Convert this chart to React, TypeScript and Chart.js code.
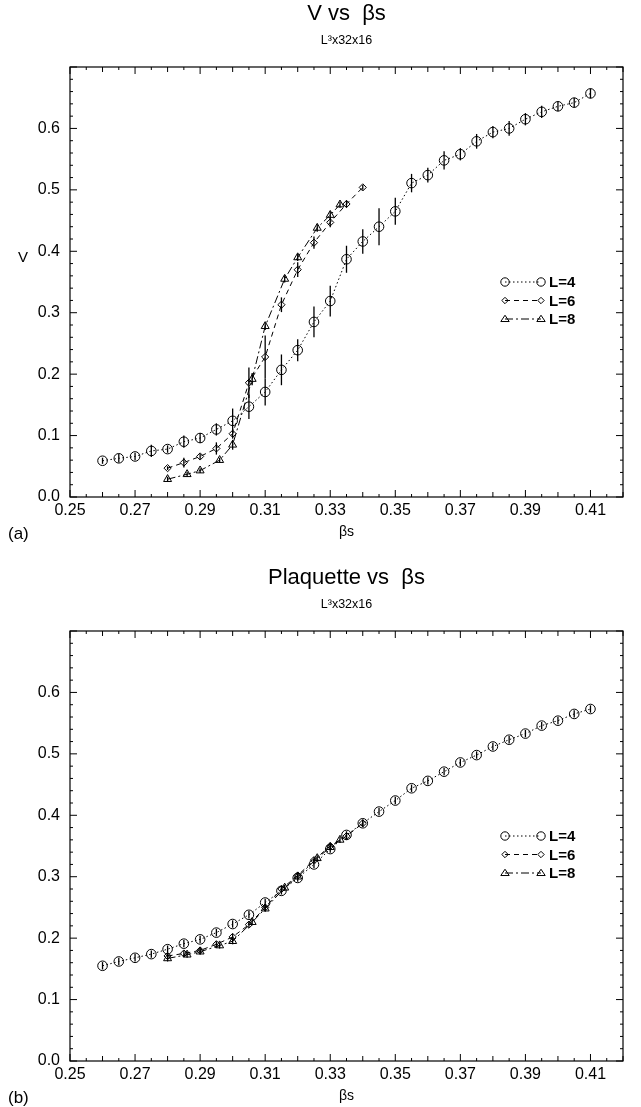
import React, { useEffect, useRef } from 'react';
import { Chart, registerables } from 'chart.js';

Chart.register(...registerables);

// ---------- data ----------
const X4 = [0.26, 0.265, 0.27, 0.275, 0.28, 0.285, 0.29, 0.295, 0.3, 0.305, 0.31, 0.315, 0.32, 0.325, 0.33, 0.335, 0.34, 0.345, 0.35, 0.355, 0.36, 0.365, 0.37, 0.375, 0.38, 0.385, 0.39, 0.395, 0.4, 0.405, 0.41];
const X6 = [0.28, 0.285, 0.29, 0.295, 0.3, 0.305, 0.31, 0.315, 0.32, 0.325, 0.33, 0.335, 0.34];
const X8 = [0.28, 0.286, 0.29, 0.296, 0.3, 0.306, 0.31, 0.316, 0.32, 0.326, 0.33, 0.333];

const V4 = [0.059, 0.063, 0.066, 0.075, 0.078, 0.09, 0.096, 0.11, 0.124, 0.147, 0.171, 0.207, 0.239, 0.285, 0.319, 0.387, 0.416, 0.44, 0.465, 0.511, 0.524, 0.548, 0.558, 0.579, 0.594, 0.6, 0.615, 0.627, 0.636, 0.642, 0.657];
const V4Err = [0.005, 0.007, 0.006, 0.01, 0.006, 0.01, 0.008, 0.01, 0.02, 0.02, 0.022, 0.025, 0.018, 0.025, 0.025, 0.022, 0.02, 0.03, 0.022, 0.015, 0.012, 0.015, 0.01, 0.012, 0.01, 0.012, 0.01, 0.01, 0.008, 0.008, 0.008];
const V6 = [0.047, 0.056, 0.066, 0.079, 0.103, 0.186, 0.228, 0.313, 0.37, 0.414, 0.447, 0.477, 0.504];
const V6Err = [0.003, 0.008, 0.004, 0.01, 0.008, 0.025, 0.035, 0.012, 0.012, 0.01, 0.008, 0.006, 0.004];
const V8 = [0.029, 0.037, 0.043, 0.06, 0.085, 0.192, 0.278, 0.355, 0.39, 0.438, 0.459, 0.476];
const V8Err = [0.004, 0.004, 0.004, 0.004, 0.008, 0.01, 0.006, 0.006, 0.006, 0.006, 0.006, 0.005];

const P4 = [0.155, 0.162, 0.168, 0.174, 0.182, 0.191, 0.198, 0.209, 0.223, 0.238, 0.258, 0.277, 0.298, 0.32, 0.345, 0.368, 0.387, 0.406, 0.424, 0.444, 0.456, 0.471, 0.486, 0.498, 0.512, 0.523, 0.533, 0.546, 0.554, 0.565, 0.573];
const P4Err = [0.006, 0.006, 0.006, 0.006, 0.006, 0.006, 0.006, 0.006, 0.006, 0.006, 0.006, 0.006, 0.006, 0.006, 0.006, 0.006, 0.006, 0.006, 0.006, 0.006, 0.006, 0.006, 0.006, 0.006, 0.006, 0.006, 0.006, 0.006, 0.006, 0.006, 0.006];
const P6 = [0.171, 0.175, 0.18, 0.19, 0.202, 0.222, 0.25, 0.28, 0.302, 0.327, 0.35, 0.366, 0.387];
const P6Err = [0.005, 0.005, 0.005, 0.005, 0.005, 0.005, 0.005, 0.005, 0.005, 0.005, 0.005, 0.005, 0.005];
const P8 = [0.167, 0.173, 0.178, 0.188, 0.195, 0.226, 0.248, 0.282, 0.3, 0.33, 0.348, 0.36];
const P8Err = [0.005, 0.005, 0.005, 0.005, 0.005, 0.005, 0.005, 0.005, 0.005, 0.005, 0.005, 0.005];

const X_TICK_LABELS = ['0.25', '0.27', '0.29', '0.31', '0.33', '0.35', '0.37', '0.39', '0.41'];
const Y_TICK_LABELS = ['0.0', '0.1', '0.2', '0.3', '0.4', '0.5', '0.6'];
const SERIES_LABELS = ['L=4', 'L=6', 'L=8'];

const FONT = '"Liberation Sans", Arial, Helvetica, sans-serif';

const zip = (xs: number[], ys: number[]) => xs.map((x, i) => ({ x, y: ys[i] }));

function buildDatasets(y4: number[], e4: number[], y6: number[], e6: number[], y8: number[], e8: number[]) {
  return [
    {
      label: SERIES_LABELS[0],
      data: zip(X4, y4),
      errorBars: e4,
      borderColor: '#000',
      backgroundColor: 'rgba(255,255,255,0)',
      borderWidth: 1,
      borderDash: [1.5, 2.5],
      pointStyle: 'circle',
      pointRadius: 4.8,
      pointBorderWidth: 1,
      pointBorderColor: '#000',
      pointBackgroundColor: 'rgba(255,255,255,0)',
    },
    {
      label: SERIES_LABELS[1],
      data: zip(X6, y6),
      errorBars: e6,
      borderColor: '#000',
      backgroundColor: 'rgba(255,255,255,0)',
      borderWidth: 1,
      borderDash: [5, 4],
      pointStyle: 'rectRot',
      pointRadius: 3.6,
      pointBorderWidth: 1,
      pointBorderColor: '#000',
      pointBackgroundColor: 'rgba(255,255,255,0)',
    },
    {
      label: SERIES_LABELS[2],
      data: zip(X8, y8),
      errorBars: e8,
      borderColor: '#000',
      backgroundColor: 'rgba(255,255,255,0)',
      borderWidth: 1,
      borderDash: [8, 3, 2, 3],
      pointStyle: 'triangle',
      pointRadius: 4.6,
      pointBorderWidth: 1,
      pointBorderColor: '#000',
      pointBackgroundColor: 'rgba(255,255,255,0)',
    },
  ];
}

function drawMarker(ctx: CanvasRenderingContext2D, style: string, x: number, y: number, r: number) {
  ctx.beginPath();
  if (style === 'circle') {
    ctx.arc(x, y, r, 0, Math.PI * 2);
  } else if (style === 'rectRot') {
    ctx.moveTo(x, y - r);
    ctx.lineTo(x + r, y);
    ctx.lineTo(x, y + r);
    ctx.lineTo(x - r, y);
    ctx.closePath();
  } else {
    const h = r * 1.5;
    ctx.moveTo(x, y - h * 0.6);
    ctx.lineTo(x + r, y + h * 0.4);
    ctx.lineTo(x - r, y + h * 0.4);
    ctx.closePath();
  }
  ctx.stroke();
}

const decorPlugin = {
  id: 'decor',
  afterDatasetsDraw(chart: any) {
    const { ctx, scales } = chart;
    const x = scales.x;
    const y = scales.y;
    ctx.save();
    ctx.strokeStyle = '#000';
    ctx.lineWidth = 1.3;
    ctx.setLineDash([]);
    chart.data.datasets.forEach((ds: any) => {
      const errs: number[] = ds.errorBars || [];
      ds.data.forEach((p: any, j: number) => {
        const e = errs[j];
        if (!e) return;
        const px = x.getPixelForValue(p.x);
        ctx.beginPath();
        ctx.moveTo(px, y.getPixelForValue(p.y - e));
        ctx.lineTo(px, y.getPixelForValue(p.y + e));
        ctx.stroke();
      });
    });
    ctx.restore();
  },
  afterDraw(chart: any, _args: any, opts: any) {
    const { ctx, chartArea: a, scales } = chart;
    const x = scales.x;
    const y = scales.y;
    ctx.save();
    ctx.strokeStyle = '#000';
    ctx.fillStyle = '#000';
    ctx.setLineDash([]);
    // frame
    ctx.lineWidth = 1.2;
    ctx.strokeRect(a.left, a.top, a.right - a.left, a.bottom - a.top);
    // inward ticks on x
    ctx.lineWidth = 1;
    for (let k = 0; k <= 34; k++) {
      const v = 0.25 + k * 0.005;
      const px = x.getPixelForValue(v);
      const len = k % 4 === 0 ? 7 : k % 2 === 0 ? 5 : 3;
      ctx.beginPath();
      ctx.moveTo(px, a.bottom);
      ctx.lineTo(px, a.bottom - len);
      ctx.moveTo(px, a.top);
      ctx.lineTo(px, a.top + len);
      ctx.stroke();
    }
    // inward ticks on y
    for (let k = 0; k <= 35; k++) {
      const v = k * 0.02;
      const py = y.getPixelForValue(v);
      const len = k % 5 === 0 ? 7 : 3;
      ctx.beginPath();
      ctx.moveTo(a.left, py);
      ctx.lineTo(a.left + len, py);
      ctx.moveTo(a.right, py);
      ctx.lineTo(a.right - len, py);
      ctx.stroke();
    }
    // legend
    const lg = opts.legendTop as number;
    chart.data.datasets.forEach((ds: any, i: number) => {
      const ly = lg + i * 18.5;
      const x0 = 505;
      const x1 = 541;
      ctx.lineWidth = 1;
      ctx.setLineDash(ds.borderDash);
      ctx.beginPath();
      ctx.moveTo(x0, ly);
      ctx.lineTo(x1, ly);
      ctx.stroke();
      ctx.setLineDash([]);
      drawMarker(ctx, ds.pointStyle, x0, ly, ds.pointStyle === 'rectRot' ? 3.2 : 4.2);
      drawMarker(ctx, ds.pointStyle, x1, ly, ds.pointStyle === 'rectRot' ? 3.2 : 4.2);
      ctx.font = `bold 15px ${FONT}`;
      ctx.textAlign = 'left';
      ctx.textBaseline = 'middle';
      ctx.fillText(ds.label, 549, ly + 1);
    });
    // texts
    const cx = (a.left + a.right) / 2;
    ctx.textAlign = 'center';
    ctx.textBaseline = 'middle';
    ctx.font = `22px ${FONT}`;
    ctx.fillText(opts.title, cx, opts.titleY);
    ctx.font = `12.5px ${FONT}`;
    ctx.fillText(opts.subtitle, cx, opts.subtitleY);
    ctx.font = `14px ${FONT}`;
    ctx.fillText('\u03b2s', cx, opts.xTitleY);
    if (opts.yTitle) {
      ctx.font = `15px ${FONT}`;
      ctx.fillText(opts.yTitle, 23, opts.yTitleY);
    }
    ctx.textAlign = 'left';
    ctx.font = `17px ${FONT}`;
    ctx.fillText(opts.tag, 8, opts.tagY);
    ctx.restore();
  },
};

type PanelProps = {
  datasets: any[];
  title: string;
  yTitle: string;
  tag: string;
  legendTop: number;
  height: number;
  top: number;
};

function Panel({ datasets, title, yTitle, tag, legendTop, height, top }: PanelProps) {
  const ref = useRef<HTMLCanvasElement | null>(null);
  useEffect(() => {
    if (!ref.current) return;
    const chart = new Chart(ref.current, {
      type: 'scatter',
      data: { datasets: datasets as any },
      plugins: [decorPlugin as any],
      options: {
        responsive: false,
        animation: false,
        showLine: true,
        layout: { padding: { left: 0, right: 18, top: 67, bottom: height - 497 - 40 } },
        plugins: {
          legend: { display: false },
          tooltip: { enabled: false },
          title: { display: false },
          decor: {
            legendTop,
            title,
            subtitle: 'L\u00b3x32x16',
            titleY: 14,
            subtitleY: 41,
            xTitleY: 532,
            yTitle,
            yTitleY: 258,
            tag,
            tagY: 534,
          },
        } as any,
        scales: {
          x: {
            type: 'linear',
            min: 0.25,
            max: 0.42,
            grid: { display: false, drawTicks: false },
            border: { display: false },
            afterFit: (s: any) => {
              s.height = 40;
            },
            ticks: {
              stepSize: 0.01,
              autoSkip: false,
              maxRotation: 0,
              padding: 4,
              color: '#000',
              font: { family: FONT, size: 16 },
              callback: (v: any) => {
                const k = Math.round((Number(v) - 0.25) / 0.01);
                return k % 2 === 0 && k / 2 < X_TICK_LABELS.length ? X_TICK_LABELS[k / 2] : '';
              },
            },
          },
          y: {
            type: 'linear',
            min: 0,
            max: 0.7,
            grid: { display: false, drawTicks: false },
            border: { display: false },
            afterFit: (s: any) => {
              s.width = 70;
            },
            ticks: {
              stepSize: 0.1,
              autoSkip: false,
              padding: 10,
              color: '#000',
              font: { family: FONT, size: 16 },
              callback: (v: any) => {
                const k = Math.round(Number(v) / 0.1);
                return k < Y_TICK_LABELS.length ? Y_TICK_LABELS[k] : '';
              },
            },
          },
        },
      },
    });
    return () => chart.destroy();
  }, []);
  return (
    <canvas
      ref={ref}
      width={641}
      height={height}
      style={{ position: 'absolute', left: 0, top, width: 641, height }}
    />
  );
}

export default function App() {
  const top = buildDatasets(V4, V4Err, V6, V6Err, V8, V8Err);
  const bottom = buildDatasets(P4, P4Err, P6, P6Err, P8, P8Err);
  return (
    <div style={{ position: 'absolute', left: 0, top: 0, width: 641, height: 1107, background: '#fff' }}>
      <Panel datasets={top} title={'V vs  \u03b2s'} yTitle="V" tag="(a)" legendTop={282} height={564} top={0} />
      <Panel datasets={bottom} title={'Plaquette vs  \u03b2s'} yTitle="" tag="(b)" legendTop={272} height={543} top={564} />
    </div>
  );
}
